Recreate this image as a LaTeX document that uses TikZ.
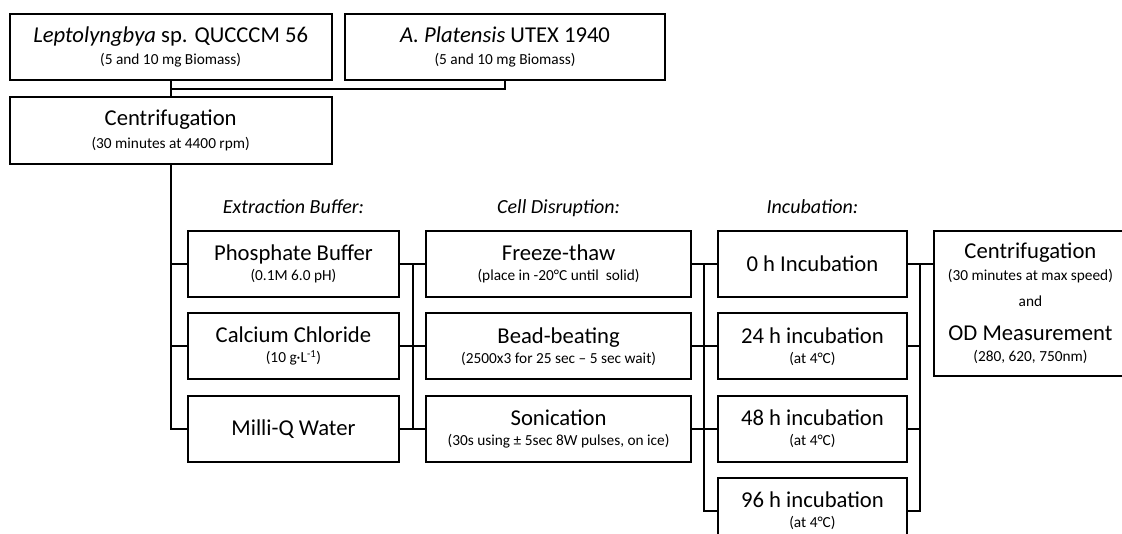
\documentclass[tikz,border=0pt]{standalone}
\usepackage{fontspec}
\setmainfont{Carlito}
\usetikzlibrary{positioning,calc}
\newcommand{\boxnote}[1]{{\fontsize{11.5}{13}\selectfont #1}}

\begin{document}
\begin{tikzpicture}[
    font=\fontsize{17}{15}\selectfont,
    block/.style={
        draw,
        line width=1.5pt,
        inner sep=0pt,
        minimum height=49.5pt,
        align=center
    },
    strain/.style={block, minimum width=241.5pt, minimum height=50pt},
    buffer/.style={block, minimum width=158.7pt},
    disrupt/.style={block, minimum width=198.5pt},
    incub/.style={block, minimum width=141.75pt},
    result/.style={block, minimum width=144.75pt, minimum height=108.75pt},
    head/.style={font=\fontsize{15}{18}\selectfont\itshape, inner sep=0pt,
        text height=11pt, text depth=3.5pt},
    link/.style={line width=1.5pt},
    node distance=10.75pt and 18.75pt
]

\useasboundingbox (0,0) rectangle (841.5pt,-400.5pt);

% ============================================================
% SZCZEPY I WIROWANIE
% ============================================================
\node[strain, anchor=north west] (lepto) at (6.5pt,-9.5pt)
    {\textit{Leptolyngbya} sp. QUCCCM 56\\[2pt]\boxnote{(5 and 10 mg Biomass)}};
\node[strain, minimum width=240.5pt, right=8.25pt of lepto] (plat)
    {\textit{A. Platensis} UTEX 1940\\[2pt]\boxnote{(5 and 10 mg Biomass)}};
\node[strain, below=11.25pt of lepto] (cent)
    {Centrifugation\\[2pt]\boxnote{(30 minutes at 4400 rpm)}};

\coordinate (join) at ($(lepto.south)!0.5!(cent.north)$);
\draw[link] (lepto.south) -- (cent.north);
\draw[link] (plat.south) |- (join);

% ============================================================
% BUFOR EKSTRAKCYJNY
% ============================================================
\node[buffer, anchor=north west] (phos) at (140pt,-172.5pt)
    {Phosphate Buffer\\\boxnote{(0.1M 6.0 pH)}};
\node[buffer, below=of phos] (calc)
    {Calcium Chloride\\\boxnote{(10 g·L\textsuperscript{-1})}};
\node[buffer, below=of calc] (milli) {Milli-Q Water};
\node[head, above=9pt of phos] (hbuf) {Extraction Buffer:};

\draw[link] (cent.south) |- (milli.west);
\draw[link] (cent.south |- phos.west) -- (phos.west);
\draw[link] (cent.south |- calc.west) -- (calc.west);

% ============================================================
% DEZINTEGRACJA KOMOREK
% ============================================================
\node[disrupt, right=of phos] (freeze)
    {Freeze-thaw\\\boxnote{(place in -20°C until\ \ solid)}};
\node[disrupt, right=of calc] (bead)
    {Bead-beating\\\boxnote{(2500x3 for 25 sec – 5 sec wait)}};
\node[disrupt, right=of milli] (sonic)
    {Sonication\\\boxnote{(30s using ± 5sec 8W pulses, on ice)}};
\node[head, above=9pt of freeze] (hdis) {Cell Disruption:};

\draw[link] (phos.east) -- (freeze.west);
\draw[link] (calc.east) -- (bead.west);
\draw[link] (milli.east) -- (sonic.west);
\draw[link] ($(phos.east)!0.5!(freeze.west)$) -- ($(milli.east)!0.5!(sonic.west)$);

% ============================================================
% INKUBACJA
% ============================================================
\node[incub, right=of freeze] (inc0) {0 h Incubation};
\node[incub, right=of bead] (inc24) {24 h incubation\\\boxnote{(at 4°C)}};
\node[incub, right=of sonic] (inc48) {48 h incubation\\\boxnote{(at 4°C)}};
\node[incub, below=of inc48] (inc96) {96 h incubation\\\boxnote{(at 4°C)}};
\node[head, above=9pt of inc0] (hinc) {Incubation:};

\coordinate (bus3) at ($(freeze.east)!0.5!(inc0.west)$);
\draw[link] (freeze.east) -- (inc0.west);
\draw[link] (bead.east) -- (inc24.west);
\draw[link] (sonic.east) -- (inc48.west);
\draw[link] (bus3) |- (inc96.west);

% ============================================================
% POMIAR
% ============================================================
\node[result, right=of inc0.north east, anchor=north west] (final)
    {Centrifugation\\[1pt]\boxnote{(30 minutes at max speed)}\\[5pt]
     \boxnote{and}\\[10pt]OD Measurement\\[1pt]\boxnote{(280, 620, 750nm)}};

\coordinate (bus4) at ($(inc0.east)!0.5!(inc0.east -| final.west)$);
\draw[link] (inc0.east) -- (inc0.east -| final.west);
\draw[link] (inc24.east) -- (inc24.east -| bus4);
\draw[link] (inc48.east) -- (inc48.east -| bus4);
\draw[link] (bus4) |- (inc96.east);

\end{tikzpicture}
\end{document}
